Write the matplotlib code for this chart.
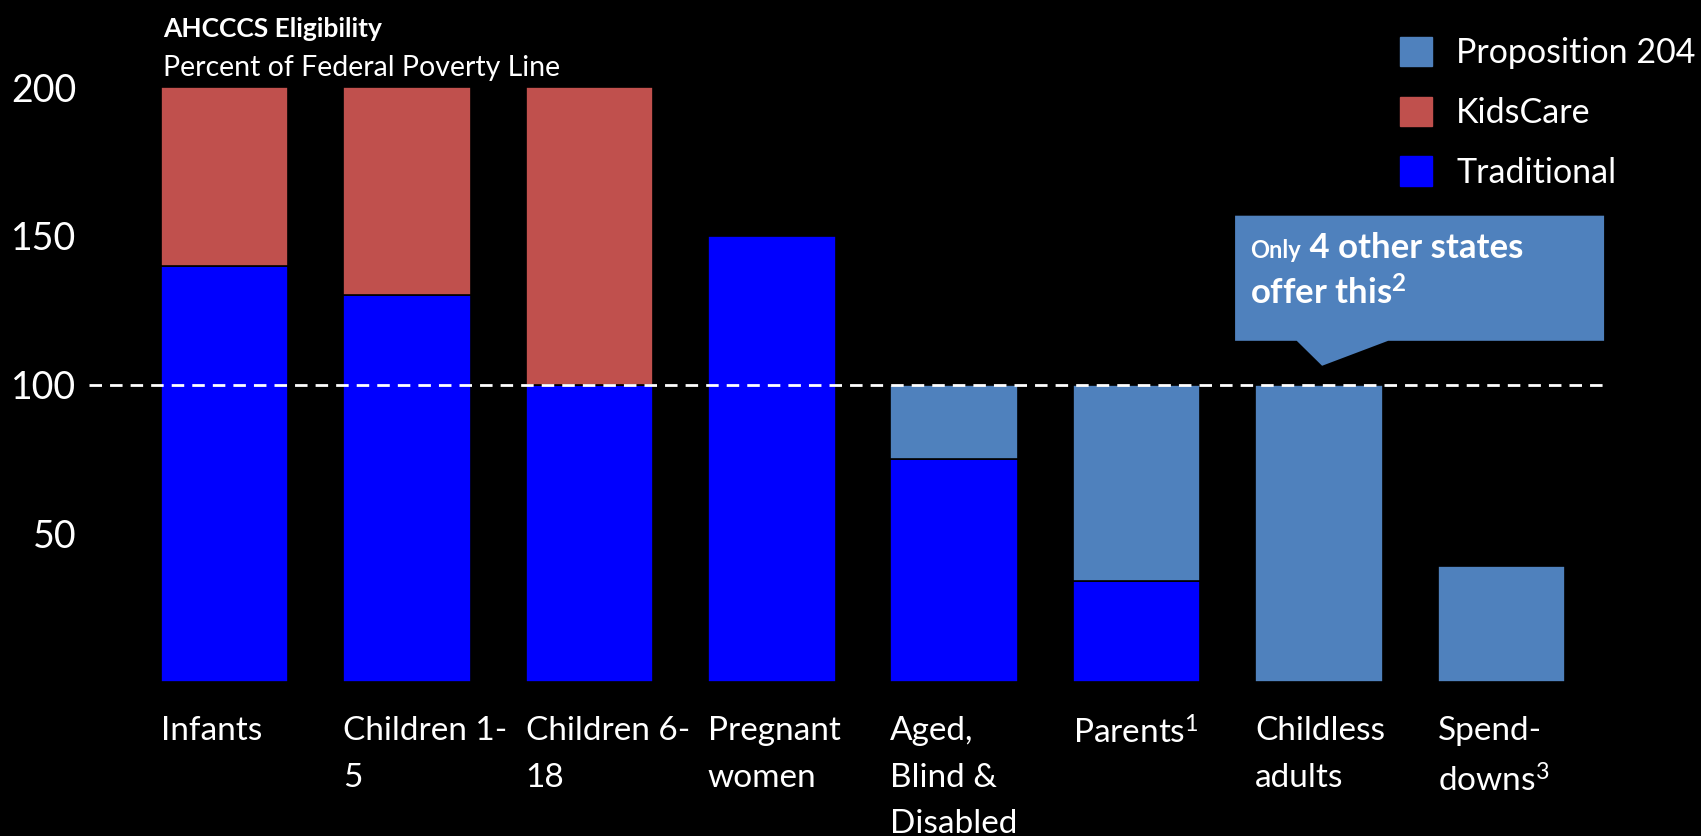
import matplotlib
matplotlib.use('Agg')
import matplotlib.pyplot as plt
from matplotlib.patches import Polygon, Patch
import numpy as np

plt.rcParams['font.family'] = ['Lato', 'DejaVu Sans']
plt.rcParams['mathtext.fontset'] = 'custom'
plt.rcParams['mathtext.rm'] = 'Lato'
plt.rcParams['mathtext.it'] = 'Lato:italic'
plt.rcParams['mathtext.bf'] = 'Lato:bold'

# data (percent of federal poverty line)
categories = ['Infants', 'Children 1-\n5', 'Children 6-\n18', 'Pregnant\nwomen',
              'Aged,\nBlind &\nDisabled', 'Parents$^1$', 'Childless\nadults', 'Spend-\ndowns$^3$']
traditional = [140, 130, 100, 150, 75, 34, 0, 0]
kidscare = [60, 70, 100, 0, 0, 0, 0, 0]
prop204 = [0, 0, 0, 0, 25, 66, 100, 39]
yticks = [50, 100, 150, 200]

c_trad = '#0000FF'
c_kids = '#C0504D'
c_prop = '#4F81BD'

W, H = 1701, 836
fig = plt.figure(figsize=(W / 100, H / 100), dpi=100, facecolor='black')
ax = fig.add_axes([89 / W, 154.3 / H, (1603 - 89) / W, 594.4 / H])
ax.set_facecolor('black')

x = np.arange(len(categories))
width = 0.70
trad = np.array(traditional, dtype=float)
kids = np.array(kidscare, dtype=float)
prop = np.array(prop204, dtype=float)


def draw(vals, bottom, color):
    m = vals > 0  # skip empty segments so no stray edge lines
    ax.bar(x[m], vals[m], width, bottom=bottom[m], color=color,
           edgecolor='black', linewidth=1.2, zorder=2)


draw(trad, np.zeros_like(trad), c_trad)
draw(kids, trad, c_kids)
draw(prop, trad + kids, c_prop)

ax.axhline(100, color='white', linewidth=2, dashes=(4.5, 2.9), zorder=3)

ax.set_xlim(-0.743, 7.557)
ax.set_ylim(0, 200)
for s in ax.spines.values():
    s.set_visible(False)

ax.set_yticks(yticks)
ax.set_yticklabels([str(v) for v in yticks])
ax.tick_params(axis='y', length=0, pad=9, labelsize=27, labelcolor='white')

ax.set_xticks(x - width / 2)
ax.set_xticklabels(categories, ha='left', linespacing=1.68)
ax.tick_params(axis='x', length=0, pad=25, labelsize=24, labelcolor='white')

# title block
fig.text(163 / W, 1 - 37 / H, 'AHCCCS Eligibility', color='white', fontsize=19,
         fontweight='bold', va='baseline')
fig.text(163 / W, 1 - 76 / H, 'Percent of Federal Poverty Line', color='white',
         fontsize=20.5, va='baseline')

# legend
handles = [Patch(facecolor=c_prop, edgecolor=c_prop),
           Patch(facecolor=c_kids, edgecolor=c_kids),
           Patch(facecolor=c_trad, edgecolor=c_trad)]
leg = fig.legend(handles, ['Proposition 204', 'KidsCare', 'Traditional'],
                 loc='upper left', bbox_to_anchor=(1400 / W, 1 - 37 / H),
                 frameon=False, fontsize=24.5, handlelength=0.95, handleheight=0.95,
                 handletextpad=0.7, labelspacing=0.8, borderpad=0, borderaxespad=0)
for t in leg.get_texts():
    t.set_color('white')

# callout
callout = Polygon([(5.54, 156.8), (7.563, 156.8), (7.563, 114.7), (6.379, 114.7),
                   (6.017, 106.3), (5.878, 114.7), (5.54, 114.7)],
                  closed=True, facecolor=c_prop, edgecolor='none', zorder=4,
                  clip_on=False)
ax.add_patch(callout)
t1 = ax.text(5.622, 142.5, 'Only', color='white', fontsize=17, fontweight='bold',
             va='baseline', zorder=5)
fig.canvas.draw()
r = fig.canvas.get_renderer()
bb = t1.get_window_extent(r)
xd = ax.transData.inverted().transform((bb.x1, bb.y0))[0]
ax.text(xd, 142.5, ' 4 other states', color='white', fontsize=25,
        fontweight='bold', va='baseline', zorder=5)
ax.text(5.622, 127.0, 'offer this$^\\mathbf{2}$', color='white', fontsize=25,
        fontweight='bold', va='baseline', zorder=5)

fig.savefig('out.png', dpi=100, facecolor='black')
